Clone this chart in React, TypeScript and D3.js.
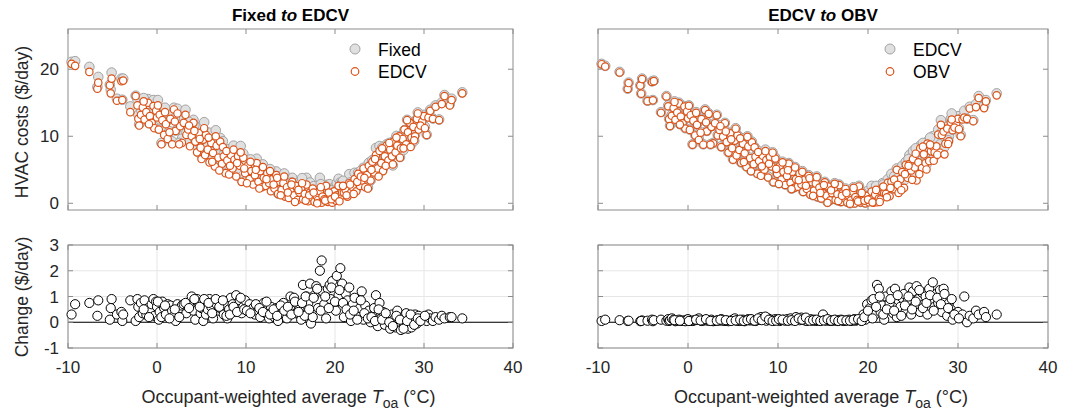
import React from "react";
import * as d3 from "d3";

// [temperature °C, EDCV cost $/day, Fixed−EDCV change, EDCV−OBV change]
const dailyRecords: [number, number, number, number][] = [
  [-9.6, 20.8, 0.3, 0.05], [-9.2, 20.5, 0.7, 0.1], [-7.6, 19.6, 0.75, 0.08], [-6.7, 17.1, 0.25, 0.05],
  [-6.6, 18.0, 0.85, 0.06], [-5.3, 17.6, 0.1, 0.04], [-5.1, 18.6, 0.9, 0.07], [-5.2, 16.4, 0.55, 0.05],
  [-4.5, 15.3, 0.3, 0.06], [-4.0, 18.2, 0.4, 0.1], [-3.9, 15.4, 0.05, 0.04], [-3.8, 18.3, 0.3, 0.08],
  [-3.0, 13.6, 0.85, 0.1], [-2.4, 16.0, 0.05, 0.06], [-2.2, 14.6, 0.9, 0.12], [-2.1, 12.6, 0.6, 0.05],
  [-2.0, 11.6, 0.2, 0.08], [-1.8, 13.2, 0.75, 0.15], [-1.6, 14.3, 0.35, 0.1], [-1.4, 12.5, 0.85, 0.04],
  [-1.2, 13.6, 0.3, 0.06], [-1.0, 15.0, 0.55, 0.1], [-0.8, 13.0, 0.45, 0.05], [-0.6, 12.0, 0.7, 0.07],
  [-0.4, 14.5, 0.9, 0.06], [-0.3, 11.2, 0.25, 0.04], [-0.1, 13.8, 0.8, 0.1], [0.0, 12.8, 0.6, 0.12],
  [0.2, 11.0, 0.1, 0.05], [0.3, 13.2, 0.4, 0.06], [0.5, 8.8, 0.2, 0.05], [0.6, 12.4, 0.8, 0.07],
  [0.8, 10.2, 0.55, 0.08], [1.0, 11.8, 0.3, 0.1], [1.2, 9.6, 0.7, 0.15], [1.5, 12.6, 0.65, 0.05],
  [1.7, 8.8, 0.45, 0.06], [1.9, 14.0, 0.25, 0.09], [2.1, 10.8, 0.05, 0.07], [2.3, 13.4, 0.7, 0.06],
  [2.6, 11.5, 0.55, 0.1], [2.8, 9.0, 0.65, 0.04], [3.0, 12.0, 0.7, 0.05], [3.3, 10.2, 0.35, 0.08],
  [3.5, 11.0, 0.6, 0.06], [3.7, 8.5, 0.8, 0.12], [3.9, 10.0, 1.0, 0.06], [4.1, 12.0, 0.45, 0.05],
  [4.3, 9.2, 0.1, 0.07], [4.5, 7.6, 0.9, 0.04], [4.7, 10.5, 0.75, 0.06], [4.9, 8.3, 0.35, 0.08],
  [5.0, 6.6, 0.55, 0.1], [5.2, 9.5, 0.05, 0.15], [5.4, 7.2, 0.8, 0.06], [5.5, 10.2, 0.3, 0.08],
  [5.7, 8.0, 0.5, 0.05], [5.9, 6.1, 0.9, 0.06], [6.1, 9.0, 0.6, 0.1], [6.3, 7.5, 0.15, 0.04],
  [6.5, 5.5, 0.85, 0.09], [6.7, 8.6, 0.7, 0.12], [6.9, 6.8, 0.45, 0.07], [7.1, 9.2, 0.55, 0.1],
  [7.3, 5.9, 0.8, 0.06], [7.5, 7.0, 0.3, 0.05], [7.7, 4.5, 0.65, 0.08], [7.9, 6.4, 0.15, 0.1],
  [8.1, 4.3, 0.5, 0.2], [8.3, 7.2, 0.95, 0.12], [8.5, 5.2, 0.7, 0.18], [8.7, 6.5, 0.4, 0.06],
  [8.9, 4.0, 1.05, 0.15], [9.1, 7.0, 0.55, 0.08], [9.3, 5.6, 0.85, 0.1], [9.5, 3.2, 0.35, 0.06],
  [9.7, 6.8, 0.6, 0.12], [9.9, 4.5, 0.85, 0.1], [10.2, 5.6, 0.5, 0.05], [10.4, 3.6, 0.7, 0.08],
  [10.6, 4.8, 0.4, 0.1], [10.8, 2.8, 0.55, 0.06], [11.0, 4.2, 0.3, 0.12], [11.2, 6.0, 0.65, 0.07],
  [11.4, 3.2, 0.45, 0.15], [11.6, 4.8, 0.2, 0.08], [11.8, 2.4, 0.6, 0.1], [12.0, 3.8, 0.75, 0.2],
  [12.2, 2.6, 0.35, 0.12], [12.4, 4.5, 0.5, 0.08], [12.6, 3.0, 0.15, 0.18], [12.8, 1.8, 0.6, 0.1],
  [13.0, 3.6, 0.4, 0.07], [13.2, 2.2, 0.2, 0.05], [13.4, 4.2, 0.55, 0.09], [13.6, 1.4, 0.05, 0.12],
  [13.8, 3.2, 0.6, 0.06], [14.0, 2.0, 0.35, 0.1], [14.2, 3.0, 0.75, 0.05], [14.4, 1.0, 0.5, 0.08],
  [14.6, 2.4, 0.15, 0.06], [14.8, 0.8, 0.4, 0.07], [15.0, 1.8, 1.0, 0.3], [15.2, 3.2, 0.6, 0.08],
  [15.4, 1.2, 0.95, 0.06], [15.6, 2.6, 0.35, 0.1], [15.8, 0.5, 0.7, 0.05], [16.0, 1.6, 0.5, 0.07],
  [16.2, 2.2, 0.1, 0.06], [16.4, 0.6, 1.45, 0.09], [16.6, 1.4, 0.25, 0.05], [16.8, 2.8, 1.0, 0.08],
  [17.0, 0.3, 0.75, 0.1], [17.2, 1.6, 1.5, 0.07], [17.3, 0.9, -0.05, 0.05], [17.5, 2.2, 0.2, 0.06],
  [17.7, 0.2, 1.05, 0.08], [17.9, 1.2, 1.4, 0.1], [18.1, 0.5, 0.55, 0.05], [18.3, 1.8, 2.0, 0.07],
  [18.5, 0.1, 2.4, 0.12], [18.6, 1.0, 1.2, 0.06], [18.8, 0.6, 0.7, 0.08], [19.0, 2.6, 0.15, 0.09],
  [19.2, 0.2, 1.3, 0.07], [19.4, 1.4, 1.45, 0.1], [19.5, 0.8, 0.9, 0.3], [19.7, 0.1, 1.6, 0.1],
  [19.9, 1.8, 0.6, 0.7], [20.1, 0.4, 0.45, 0.25], [20.2, 1.2, 1.8, 0.55], [20.4, 2.6, 1.05, 0.85],
  [20.6, 1.0, 2.1, 0.9], [20.8, 1.6, 1.5, 0.3], [21.0, 1.6, 0.2, 1.45], [21.2, 2.0, 1.1, 1.3],
  [21.4, 1.0, 0.85, 0.4], [21.6, 3.0, 1.35, 0.65], [21.8, 1.6, 0.05, 0.1], [22.0, 2.4, 0.7, 1.0],
  [22.2, 3.6, 0.95, 0.55], [22.4, 1.8, 0.4, 0.75], [22.6, 4.4, 0.2, 1.2], [22.8, 2.6, 0.55, 0.35],
  [23.0, 3.4, 1.2, 1.3], [23.2, 5.2, 0.1, 0.2], [23.4, 2.4, 0.65, 0.85], [23.6, 4.2, 0.3, 0.6],
  [23.8, 5.6, 0.45, 0.95], [24.0, 3.4, 0.0, 1.1], [24.2, 6.2, 0.25, 0.45], [24.4, 4.6, 0.55, 0.8],
  [24.6, 7.2, 1.05, 1.35], [24.8, 5.2, -0.15, 0.3], [25.0, 7.8, 0.75, 1.2], [25.2, 6.0, 0.15, 0.65],
  [25.4, 4.8, 0.4, 1.4], [25.6, 7.0, -0.1, 0.9], [25.8, 8.6, 0.2, 0.4], [26.0, 6.4, 0.05, 1.15],
  [26.2, 8.0, -0.25, 0.7], [26.4, 7.0, 0.3, 1.0], [26.6, 9.2, 0.1, 0.3], [26.8, 7.6, -0.2, 1.3],
  [27.0, 8.6, 0.45, 0.85], [27.2, 10.0, 0.0, 1.55], [27.4, 8.2, -0.3, 0.6], [27.6, 9.6, 0.2, 1.1],
  [27.8, 11.0, -0.1, 0.75], [28.0, 8.8, 0.35, 1.25], [28.2, 10.6, -0.25, 0.4], [28.4, 12.0, 0.15, 1.3],
  [28.6, 9.8, -0.2, 0.9], [28.8, 11.4, 0.1, 0.25], [29.0, 10.0, 0.3, 0.75], [29.2, 12.6, -0.05, 0.5],
  [29.4, 11.0, 0.25, 0.1], [29.8, 12.2, 0.1, 0.35], [30.0, 13.0, 0.2, 0.4], [30.3, 10.2, 0.05, 0.2],
  [30.5, 12.8, 0.3, 0.3], [30.7, 13.8, 0.15, 1.0], [31.0, 12.6, 0.05, 0.0], [31.3, 14.4, 0.2, 0.25],
  [31.7, 12.4, 0.1, 0.15], [32.0, 14.8, 0.25, 0.45], [32.3, 16.0, 0.15, 0.3], [32.9, 14.6, 0.2, 0.4],
  [33.1, 15.4, 0.2, 0.2], [34.3, 16.4, 0.15, 0.3],
  [-1.5, 15.2, 0.5, 0.08], [-0.9, 11.8, 0.2, 0.06], [0.1, 14.6, 0.8, 0.05], [0.9, 13.6, 0.65, 0.1],
  [1.4, 10.6, 0.15, 0.07], [2.0, 12.2, 0.5, 0.12], [2.5, 8.8, 0.2, 0.05], [3.2, 13.2, 0.75, 0.06],
  [3.6, 11.6, 0.55, 0.1], [4.2, 10.8, 0.9, 0.08], [4.8, 9.6, 0.6, 0.05], [5.3, 11.2, 0.9, 0.07],
  [5.8, 9.8, 0.75, 0.1], [6.2, 6.2, 0.35, 0.05], [6.6, 10.0, 0.9, 0.08], [7.0, 4.9, 0.6, 0.12],
  [7.4, 8.4, 0.85, 0.06], [7.8, 7.8, 0.25, 0.15], [8.2, 5.6, 0.3, 0.08], [8.6, 8.0, 0.6, 0.22],
  [9.0, 6.0, 0.4, 0.1], [9.4, 7.6, 0.95, 0.05], [9.8, 5.2, 0.5, 0.06], [10.1, 3.0, 0.45, 0.12],
  [10.5, 6.2, 0.35, 0.1], [11.1, 5.0, 0.7, 0.06], [11.5, 2.2, 0.55, 0.08], [11.9, 5.4, 0.4, 0.05],
  [12.3, 3.6, 0.8, 0.15], [12.7, 4.8, 0.3, 0.1], [13.1, 2.8, 0.5, 0.18], [13.5, 3.8, 0.25, 0.06],
  [13.9, 1.2, 0.65, 0.08], [14.3, 4.0, 0.45, 0.1], [14.7, 1.6, 0.6, 0.05], [15.1, 2.8, 0.3, 0.07],
  [15.5, 0.2, 0.8, 0.12], [15.9, 2.0, 0.4, 0.06], [16.3, 3.0, 0.75, 0.1], [16.7, 0.4, 1.0, 0.05],
  [17.1, 1.2, 0.5, 0.08], [17.6, 1.6, 0.95, 0.07], [18.0, 0.0, 1.3, 0.06], [18.4, 2.4, 0.45, 0.1],
  [18.9, 0.4, 1.0, 0.12], [19.3, 1.6, 0.55, 0.05], [19.6, 0.6, 1.35, 0.2], [20.0, 1.0, 0.8, 0.45],
  [20.5, 0.3, 1.25, 0.15], [20.9, 2.6, 0.75, 0.6], [21.3, 1.2, 0.5, 1.0], [21.7, 2.8, 0.3, 0.3],
  [22.1, 1.4, 0.45, 0.5], [22.5, 3.2, 0.1, 0.9], [22.9, 4.0, 0.85, 0.45], [23.3, 3.8, 0.35, 1.05],
  [23.7, 2.2, 0.15, 0.25], [24.1, 5.0, 0.2, 0.65], [24.5, 6.6, 0.05, 1.0], [24.9, 4.0, 0.5, 0.5],
  [25.3, 8.2, 0.1, 0.8], [25.7, 5.6, 0.35, 1.25], [26.1, 9.0, 0.0, 0.55], [26.5, 5.8, -0.15, 0.75],
  [26.9, 9.8, 0.25, 1.05], [27.3, 6.8, 0.1, 0.45], [27.7, 8.2, -0.25, 0.95], [28.1, 12.4, 0.05, 0.7],
  [28.5, 8.4, 0.3, 1.1], [28.9, 9.4, -0.1, 0.55], [29.3, 13.4, 0.15, 0.9], [29.6, 11.6, 0.05, 0.3],
  [30.1, 11.2, 0.25, 0.15],
];

const temperature = dailyRecords.map((r) => r[0]);
const edcvCost = dailyRecords.map((r) => r[1]);
const changeFixedToEdcv = dailyRecords.map((r) => r[2]);
const changeEdcvToObv = dailyRecords.map((r) => r[3]);
const fixedCost = edcvCost.map((v, i) => v + changeFixedToEdcv[i]);
const obvCost = edcvCost.map((v, i) => v - changeEdcvToObv[i]);

const xTicks = [-10, 0, 10, 20, 30, 40];
const costTicks = [0, 10, 20];
const changeTicks = [-1, 0, 1, 2, 3];

const FONT = "Helvetica, 'Liberation Sans', Arial, sans-serif";
const AXIS = "#8c8c8c";
const TEXT = "#262626";
const GRAY_FILL = "#e0e0e0";
const GRAY_EDGE = "#a3a3a3";
const ORANGE = "#d95319";

const TOP = { y0: 29, y1: 210 };
const BOT = { y0: 245, y1: 348 };

type PanelProps = {
  x0: number;
  x1: number;
  title: [string, string];
  before: number[];
  after: number[];
  change: number[];
  legend: [string, string];
  showY: boolean;
};

function Box({ x0, x1, y0, y1 }: { x0: number; x1: number; y0: number; y1: number }) {
  return <rect x={x0} y={y0} width={x1 - x0} height={y1 - y0} fill="none" stroke={AXIS} strokeWidth={1} />;
}

function Panel({ x0, x1, title, before, after, change, legend, showY }: PanelProps) {
  const x = d3.scaleLinear().domain([-10, 40]).range([x0, x1]);
  const yTop = d3.scaleLinear().domain([-1, 26]).range([TOP.y1, TOP.y0]);
  const yBot = d3.scaleLinear().domain([-1, 3]).range([BOT.y1, BOT.y0]);
  const tl = 5;
  const cx = (x0 + x1) / 2;
  return (
    <g>
      <text x={cx} y={21} textAnchor="middle" fontFamily={FONT} fontSize={17} fontWeight="bold" fill="#000">
        {title[0]} <tspan fontStyle="italic">to</tspan> {title[1]}
      </text>
      {/* top panel */}
      <rect x={x0} y={TOP.y0} width={x1 - x0} height={TOP.y1 - TOP.y0} fill="#fff" />
      {xTicks.map((t) => (
        <g key={"tx" + t}>
          <line x1={x(t)} x2={x(t)} y1={TOP.y1} y2={TOP.y1 - tl} stroke={AXIS} />
          <line x1={x(t)} x2={x(t)} y1={TOP.y0} y2={TOP.y0 + tl} stroke={AXIS} />
        </g>
      ))}
      {costTicks.map((t) => (
        <g key={"ty" + t}>
          <line x1={x0} x2={x0 + tl} y1={yTop(t)} y2={yTop(t)} stroke={AXIS} />
          <line x1={x1} x2={x1 - tl} y1={yTop(t)} y2={yTop(t)} stroke={AXIS} />
          {showY && (
            <text x={x0 - 9} y={yTop(t) + 6} textAnchor="end" fontFamily={FONT} fontSize={17} fill={TEXT}>
              {t}
            </text>
          )}
        </g>
      ))}
      <Box x0={x0} x1={x1} y0={TOP.y0} y1={TOP.y1} />
      {before.map((v, i) => (
        <circle key={"b" + i} cx={x(temperature[i])} cy={yTop(v)} r={4.8} fill={GRAY_FILL} stroke={GRAY_EDGE} strokeWidth={1} />
      ))}
      {after.map((v, i) => (
        <circle key={"a" + i} cx={x(temperature[i])} cy={yTop(v)} r={3.7} fill="#fff" stroke={ORANGE} strokeWidth={1.2} />
      ))}
      {/* legend */}
      <circle cx={x1 - 158} cy={49} r={5} fill={GRAY_FILL} stroke={GRAY_EDGE} strokeWidth={1} />
      <text x={x1 - 135} y={55.5} fontFamily={FONT} fontSize={17.5} fill="#000">{legend[0]}</text>
      <circle cx={x1 - 158} cy={71.5} r={3.8} fill="#fff" stroke={ORANGE} strokeWidth={1.2} />
      <text x={x1 - 135} y={78} fontFamily={FONT} fontSize={17.5} fill="#000">{legend[1]}</text>

      {/* bottom panel */}
      {xTicks.map((t) => (
        <line key={"gx" + t} x1={x(t)} x2={x(t)} y1={BOT.y0} y2={BOT.y1} stroke="#e6e6e6" />
      ))}
      {changeTicks.map((t) => (
        <line key={"gy" + t} x1={x0} x2={x1} y1={yBot(t)} y2={yBot(t)} stroke="#e6e6e6" />
      ))}
      <line x1={x0} x2={x1} y1={yBot(0)} y2={yBot(0)} stroke="#000" strokeWidth={1} />
      {xTicks.map((t) => (
        <g key={"bx" + t}>
          <line x1={x(t)} x2={x(t)} y1={BOT.y1} y2={BOT.y1 - tl} stroke={AXIS} />
          <line x1={x(t)} x2={x(t)} y1={BOT.y0} y2={BOT.y0 + tl} stroke={AXIS} />
          <text x={x(t)} y={372.5} textAnchor="middle" fontFamily={FONT} fontSize={17} fill={TEXT}>
            {t}
          </text>
        </g>
      ))}
      {changeTicks.map((t) => (
        <g key={"by" + t}>
          <line x1={x0} x2={x0 + tl} y1={yBot(t)} y2={yBot(t)} stroke={AXIS} />
          <line x1={x1} x2={x1 - tl} y1={yBot(t)} y2={yBot(t)} stroke={AXIS} />
          {showY && (
            <text x={x0 - 9} y={yBot(t) + 6} textAnchor="end" fontFamily={FONT} fontSize={17} fill={TEXT}>
              {t}
            </text>
          )}
        </g>
      ))}
      <Box x0={x0} x1={x1} y0={BOT.y0} y1={BOT.y1} />
      {change.map((v, i) => (
        <circle key={"c" + i} cx={x(temperature[i])} cy={yBot(v)} r={4.6} fill="#fff" stroke="#000" strokeWidth={1} />
      ))}
      <text x={cx - 2} y={403} textAnchor="middle" fontFamily={FONT} fontSize={18} fill={TEXT}>
        Occupant-weighted average <tspan fontStyle="italic">T</tspan>
        <tspan fontSize={14} dy={5}>oa</tspan>
        <tspan dy={-5}> (°C)</tspan>
      </text>
    </g>
  );
}

export default function App() {
  return (
    <svg width={1075} height={411} style={{ position: "absolute", left: 0, top: 0, background: "#fff" }}>
      <rect width={1075} height={411} fill="#fff" />
      <text transform="translate(28,122) rotate(-90)" textAnchor="middle" fontFamily={FONT} fontSize={17.5} fill={TEXT}>
        HVAC costs ($/day)
      </text>
      <text transform="translate(28,297) rotate(-90)" textAnchor="middle" fontFamily={FONT} fontSize={17.5} fill={TEXT}>
        Change ($/day)
      </text>
      <Panel
        x0={68}
        x1={513}
        title={["Fixed", "EDCV"]}
        before={fixedCost}
        after={edcvCost}
        change={changeFixedToEdcv}
        legend={["Fixed", "EDCV"]}
        showY={true}
      />
      <Panel
        x0={598}
        x1={1048}
        title={["EDCV", "OBV"]}
        before={edcvCost}
        after={obvCost}
        change={changeEdcvToObv}
        legend={["EDCV", "OBV"]}
        showY={false}
      />
    </svg>
  );
}
